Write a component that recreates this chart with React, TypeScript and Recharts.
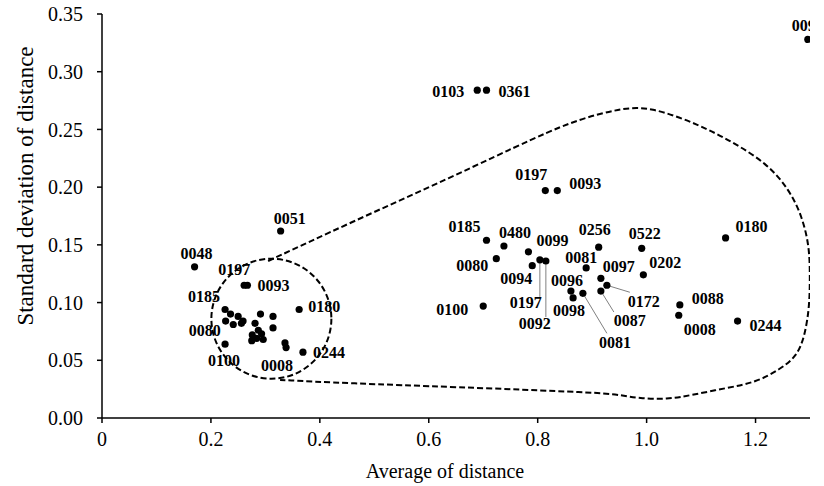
import { ComposedChart, Scatter, Line, XAxis, YAxis, ReferenceDot, Label } from 'recharts';

// sample ids, average of distance, standard deviation of distance
const pointNames = [
  '0090', '0103', '0361', '0197', '0093', '0185', '0480', '0080', '0099', '0094',
  '0197', '0092', '0100', '0256', '0081', '0096', '0098', '0081', '0097', '0172',
  '0087', '0522', '0202', '0180', '0088', '0008', '0244',
  '0051', '0048', '0197', '0093', '0180', '0244', '0100', '0008', '', '0185', '0080',
  '', '', '', '', '', '', '', '', '', '', '', '', '', '', '',
];
const avgDistance = [
  1.296, 0.689, 0.706, 0.814, 0.836, 0.706, 0.738, 0.724, 0.783, 0.79,
  0.804, 0.815, 0.7, 0.912, 0.889, 0.861, 0.865, 0.883, 0.916, 0.927,
  0.916, 0.991, 0.994, 1.145, 1.061, 1.059, 1.167,
  0.328, 0.17, 0.261, 0.267, 0.362, 0.369, 0.226, 0.338, 0.336, 0.226, 0.227,
  0.236, 0.25, 0.259, 0.256, 0.241, 0.291, 0.314, 0.281, 0.314, 0.276, 0.275, 0.284, 0.293, 0.296, 0.287,
];
const sdDistance = [
  0.328, 0.284, 0.284, 0.197, 0.197, 0.154, 0.149, 0.138, 0.144, 0.132,
  0.137, 0.136, 0.097, 0.148, 0.13, 0.11, 0.104, 0.108, 0.121, 0.115,
  0.11, 0.147, 0.124, 0.156, 0.098, 0.089, 0.084,
  0.162, 0.131, 0.115, 0.115, 0.094, 0.057, 0.064, 0.061, 0.065, 0.094, 0.084,
  0.09, 0.088, 0.084, 0.082, 0.081, 0.09, 0.088, 0.082, 0.078, 0.072, 0.067, 0.069, 0.073, 0.068, 0.076,
];

// dashed outline around the right-hand group
const outlineAvg = [
  0.305, 0.455, 0.639, 0.804, 0.877, 0.95, 1.006, 1.097, 1.158, 1.22, 1.262, 1.286, 1.299,
  1.3, 1.299, 1.29, 1.275, 1.244, 1.202, 1.147, 1.084, 1.037, 0.987, 0.95, 0.914, 0.639, 0.455, 0.327,
];
const outlineSd = [
  0.136, 0.169, 0.208, 0.245, 0.259, 0.268, 0.27, 0.254, 0.239, 0.221, 0.198, 0.174, 0.148,
  0.122, 0.096, 0.07, 0.053, 0.042, 0.031, 0.026, 0.02, 0.016, 0.017, 0.02, 0.022, 0.027, 0.03, 0.033,
];

// dashed circle around the left-hand group
const clusterAvg = 0.311;
const clusterSd = 0.086;

const xTicks = [0, 0.2, 0.4, 0.6, 0.8, 1.0, 1.2];
const yTicks = [0, 0.05, 0.1, 0.15, 0.2, 0.25, 0.3, 0.35];

const points = pointNames.map((name, i) => ({ name, idx: i, x: avgDistance[i], y: sdDistance[i] }));
const outline = outlineAvg.map((x, i) => ({ x, y: outlineSd[i] }));

// label centre offset from the dot (px), plus leader line end where one is drawn
const labelLayout: Record<number, number[]> = {
  0: [0, -14], 1: [-29, 1], 2: [28, 1], 3: [-14, -16], 4: [28, -7],
  5: [-22, -14], 6: [11, -14], 7: [-24, 7], 8: [24, -11], 9: [-16, 13],
  10: [-14, 43, 0, 37], 11: [-11, 62, 0, 56], 12: [-31, 3], 13: [-4, -18], 14: [-5, -10],
  15: [-4, -11], 16: [-4, 13], 17: [32, 49, 24, 40], 18: [18, -12], 19: [37, 16, 23, 7],
  20: [29, 29, 13, 21], 21: [3, -15], 22: [22, -12], 23: [26, -11], 24: [28, -6],
  25: [21, 14], 26: [28, 4],
  27: [9, -13], 28: [2, -13], 29: [-10, -16], 30: [26, 0], 31: [25, -3],
  32: [26, 0], 33: [-1, 16], 34: [-9, 18], 36: [-21, -13], 37: [-21, 9],
};

const serif = '"Liberation Serif", "Times New Roman", serif';

function PointShape(props: any) {
  const { cx, cy, payload } = props;
  const lay = labelLayout[payload.idx];
  return (
    <g>
      {lay && lay.length > 2 && (
        <line x1={cx} y1={cy} x2={cx + lay[2]} y2={cy + lay[3]} stroke="#808080" strokeWidth={1} />
      )}
      <circle cx={cx} cy={cy} r={3.6} fill="#000" />
      {lay && payload.name && (
        <text
          x={cx + lay[0]}
          y={cy + lay[1] + 5.5}
          textAnchor="middle"
          fontFamily={serif}
          fontWeight="bold"
          fontSize={16}
          fill="#000"
        >
          {payload.name}
        </text>
      )}
    </g>
  );
}

const axisStroke = { stroke: '#000', strokeWidth: 1.5 };
const tickStyle = { fill: '#000', fontSize: 20, fontFamily: serif };

export default function App() {
  return (
    <div style={{ position: 'absolute', left: 0, top: 0, width: 824, height: 486, background: '#fff' }}>
      <ComposedChart width={824} height={486} margin={{ top: 14, right: 14, bottom: 0, left: 0 }}>
        <XAxis
          type="number"
          dataKey="x"
          domain={[0, 1.3]}
          allowDataOverflow
          ticks={xTicks}
          interval={0}
          tickFormatter={(v: number) => (v === 0 ? '0' : v.toFixed(1))}
          height={68}
          tickSize={5}
          tickMargin={9}
          axisLine={axisStroke}
          tickLine={axisStroke}
          tick={tickStyle}
        >
          <Label
            content={(p: any) => {
              const vb = p.viewBox;
              return (
                <text x={vb.x + vb.width / 2 - 11} y={vb.y + 60} textAnchor="middle" fontFamily={serif} fontSize={20} fill="#000">
                  Average of distance
                </text>
              );
            }}
          />
        </XAxis>
        <YAxis
          type="number"
          dataKey="y"
          domain={[0, 0.35]}
          allowDataOverflow
          ticks={yTicks}
          interval={0}
          tickFormatter={(v: number) => v.toFixed(2)}
          width={102}
          tickSize={5}
          tickMargin={14}
          axisLine={axisStroke}
          tickLine={axisStroke}
          tick={tickStyle}
        >
          <Label
            content={(p: any) => {
              const vb = p.viewBox;
              return (
                <text
                  transform={`translate(${vb.x + 33},${vb.y + vb.height / 2 - 30}) rotate(-90)`}
                  textAnchor="middle"
                  fontFamily={serif}
                  fontSize={23}
                  fill="#000"
                >
                  Standard deviation of distance
                </text>
              );
            }}
          />
        </YAxis>
        <ReferenceDot
          x={clusterAvg}
          y={clusterSd}
          r={60}
          fill="none"
          stroke="#000"
          strokeWidth={2}
          strokeDasharray="6 3"
        />
        <Line
          data={outline}
          dataKey="y"
          type="basis"
          stroke="#000"
          strokeWidth={2}
          strokeDasharray="6 3"
          dot={false}
          activeDot={false}
          isAnimationActive={false}
        />
        <Scatter data={points} dataKey="y" shape={PointShape} isAnimationActive={false} />
      </ComposedChart>
    </div>
  );
}
